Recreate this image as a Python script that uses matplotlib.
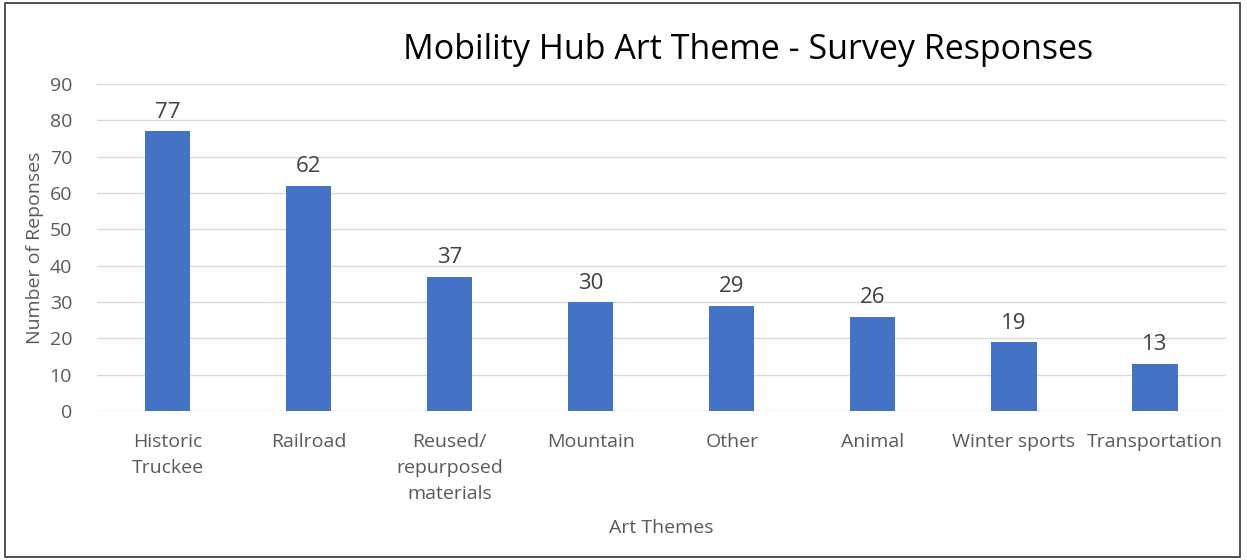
import numpy as np
import matplotlib.pyplot as plt
from matplotlib.patches import Rectangle

# data
themes = ["Historic\nTruckee", "Railroad", "Reused/\nrepurposed\nmaterials", "Mountain",
          "Other", "Animal", "Winter sports", "Transportation"]
responses = [77, 62, 37, 30, 29, 26, 19, 13]
yticks = [0, 10, 20, 30, 40, 50, 60, 70, 80, 90]

plt.rcParams['font.family'] = ['Open Sans', 'DejaVu Sans']

fig = plt.figure(figsize=(12.47, 5.6), dpi=100)
ax = fig.add_axes([0.0778, 0.266, 0.905, 0.584])

x = np.arange(len(themes))
bars = ax.bar(x, responses, width=0.32, color='#4472C4', zorder=3)
for xi, v in zip(x, responses):
    ax.text(xi, v + 2.3, str(v), ha='center', va='bottom', fontsize=16, color='#404040')

ax.set_xlim(-0.5, len(themes) - 0.5)
ax.set_ylim(0, 90)
ax.set_yticks(yticks)
ax.set_xticks(x)
ax.set_xticklabels(themes, fontsize=14, color='#595959', linespacing=1.55)
ax.tick_params(axis='y', labelsize=14, labelcolor='#595959', length=0, pad=18)
ax.tick_params(axis='x', length=0, pad=16)
ax.grid(axis='y', color='#d9d9d9', lw=1, zorder=0)
for s in ax.spines.values():
    s.set_visible(False)

ax.set_ylabel("Number of Reponses", fontsize=14, color='#595959', labelpad=4)
ax.set_xlabel("Art Themes", fontsize=14, color='#595959', labelpad=12)
fig.text(0.6, 0.91, "Mobility Hub Art Theme - Survey Responses", ha='center', va='center',
         fontsize=24.5, color='black')

# outer border
fig.patches.append(Rectangle((0.004, 0.006), 0.99, 0.988, transform=fig.transFigure,
                             fill=False, edgecolor='#333333', lw=1.2))

fig.savefig("out.png", dpi=100)
